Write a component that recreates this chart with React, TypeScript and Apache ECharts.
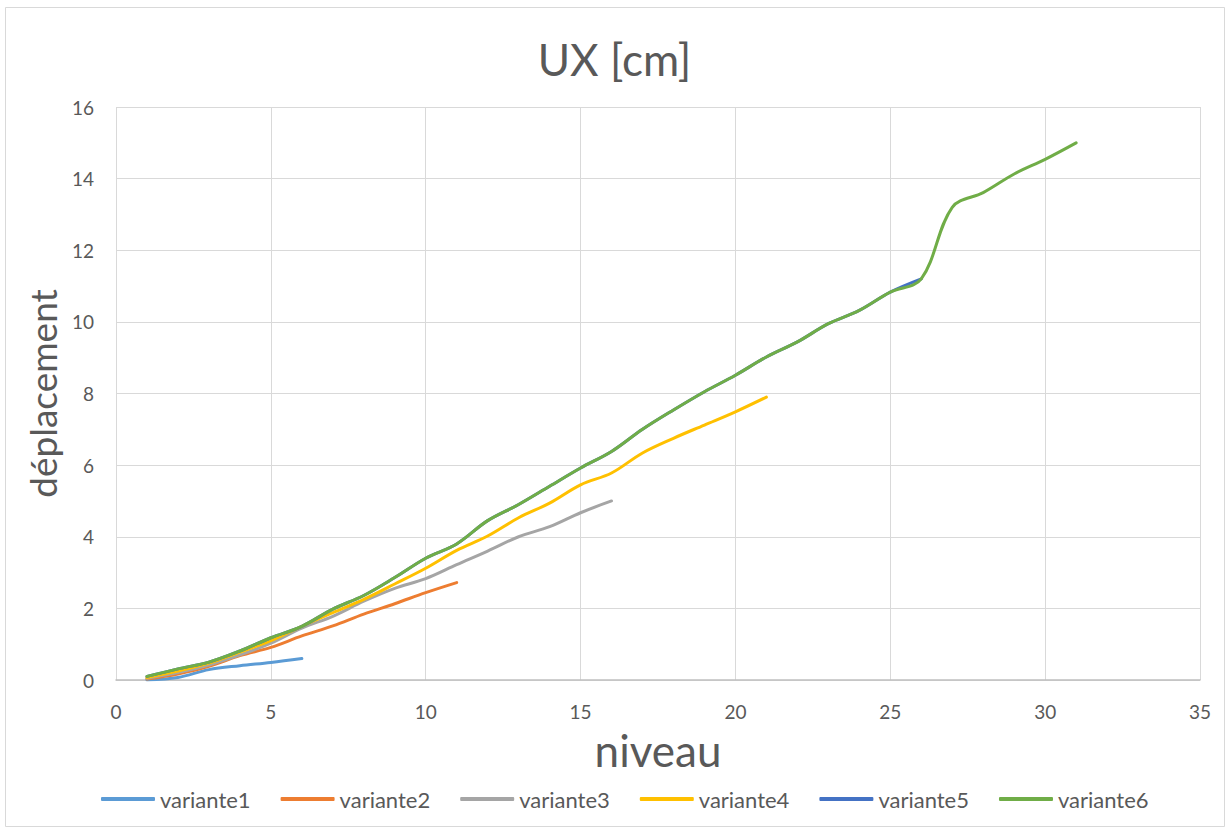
import React, { useEffect, useRef } from "react";
import * as echarts from "echarts";

const levels = Array.from({ length: 31 }, (_, i) => i + 1);
const variante1 = [0.0, 0.07, 0.29, 0.4, 0.49, 0.6];
const variante2 = [0.03, 0.17, 0.38, 0.68, 0.91, 1.23, 1.51, 1.84, 2.13, 2.44, 2.72];
const variante3 = [0.05, 0.21, 0.42, 0.7, 1.03, 1.45, 1.78, 2.2, 2.56, 2.83, 3.22, 3.6, 4.0, 4.28, 4.67, 5.0];
const variante4 = [0.07, 0.25, 0.47, 0.78, 1.1, 1.5, 1.88, 2.25, 2.68, 3.12, 3.62, 4.02, 4.53, 4.94, 5.45, 5.78, 6.34, 6.75, 7.12, 7.49, 7.9];
const variante5 = [0.1, 0.31, 0.5, 0.81, 1.18, 1.5, 1.98, 2.36, 2.86, 3.4, 3.8, 4.45, 4.9, 5.41, 5.92, 6.38, 7.0, 7.54, 8.05, 8.51, 9.02, 9.44, 9.95, 10.32, 10.83, 11.2];
const variante6 = [0.1, 0.31, 0.5, 0.81, 1.18, 1.5, 1.98, 2.36, 2.86, 3.4, 3.8, 4.45, 4.9, 5.41, 5.92, 6.38, 7.0, 7.54, 8.05, 8.51, 9.02, 9.44, 9.95, 10.32, 10.83, 11.2, 13.2, 13.61, 14.13, 14.54, 15.0];

const seriesNames = ["variante1", "variante2", "variante3", "variante4", "variante5", "variante6"];
const seriesValues = [variante1, variante2, variante3, variante4, variante5, variante6];
const colors = ["#5B9BD5", "#ED7D31", "#A5A5A5", "#FFC000", "#4472C4", "#70AD47"];

const FONT = "Lato, 'Noto Sans', sans-serif";
const TXT = "#595959";

export default function App() {
  const ref = useRef<HTMLDivElement>(null);
  useEffect(() => {
    if (!ref.current) return;
    const chart = echarts.init(ref.current, undefined, { renderer: "svg" });
    chart.setOption({
      animation: false,
      backgroundColor: "#ffffff",
      textStyle: { fontFamily: FONT },
      color: colors,
      title: {
        text: "UX [cm]",
        left: "center",
        top: 32,
        textStyle: { fontFamily: FONT, fontSize: 44, fontWeight: "normal", color: TXT },
      },
      graphic: [
        {
          type: "rect",
          shape: { x: 5.5, y: 7.5, width: 1219, height: 819 },
          style: { fill: "none", stroke: "#d9d9d9", lineWidth: 1 },
          silent: true,
        },
      ],
      grid: { left: 116, right: 29, top: 107, bottom: 153, containLabel: false },
      legend: {
        top: 783,
        left: 96,
        icon: "roundRect",
        itemWidth: 54,
        itemHeight: 4,
        itemGap: 30,
        textStyle: { fontFamily: FONT, fontSize: 22, color: TXT },
        data: seriesNames,
      },
      xAxis: {
        type: "value",
        min: 0,
        max: 35,
        interval: 5,
        name: "niveau",
        nameLocation: "middle",
        nameGap: 48,
        nameTextStyle: { fontFamily: FONT, fontSize: 44, color: TXT },
        axisLine: { show: true, lineStyle: { color: "#bfbfbf", width: 1.5 } },
        axisTick: { show: false },
        axisLabel: { fontFamily: FONT, fontSize: 19, color: TXT, margin: 22 },
        splitLine: { show: true, lineStyle: { color: "#d9d9d9", width: 1 } },
      },
      yAxis: {
        type: "value",
        min: 0,
        max: 16,
        interval: 2,
        name: "déplacement",
        nameLocation: "middle",
        nameGap: 46,
        nameTextStyle: { fontFamily: FONT, fontSize: 37, color: TXT },
        axisLine: { show: false },
        axisTick: { show: false },
        axisLabel: { fontFamily: FONT, fontSize: 19, color: TXT, margin: 22 },
        splitLine: { show: true, lineStyle: { color: "#d9d9d9", width: 1 } },
      },
      series: seriesNames.map((name, i) => ({
        name,
        type: "line",
        smooth: 0.35,
        symbol: "none",
        showSymbol: false,
        lineStyle: { width: 3, color: colors[i], cap: "round" },
        itemStyle: { color: colors[i] },
        data: seriesValues[i].map((v, j) => [levels[j], v]),
      })),
    });
    return () => chart.dispose();
  }, []);
  return (
    <div
      ref={ref}
      style={{ position: "absolute", left: 0, top: 0, width: 1229, height: 833, background: "#fff" }}
    />
  );
}
